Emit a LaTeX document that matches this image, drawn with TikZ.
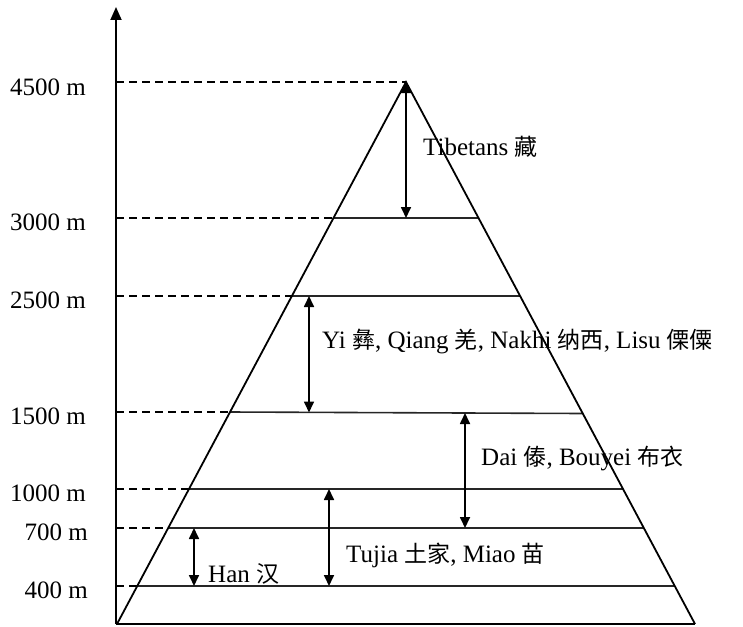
\documentclass[tikz,border=0pt]{standalone}
\usepackage{fontspec}
\setmainfont{Liberation Serif}
\newfontfamily\cjk[Scale=0.92]{Noto Sans CJK SC}
\usetikzlibrary{arrows.meta}
\begin{document}
\begin{tikzpicture}[x=1pt,y=-1pt,
  every node/.style={font=\fontsize{25}{30}\selectfont, inner sep=0pt},
  edgeline/.style={line width=1.8pt, line join=miter},
  levelline/.style={line width=1.6pt, draw=black!85},
  guide/.style={line width=1.5pt, dash pattern=on 8pt off 5pt},
  span/.style={line width=1.7pt, {Triangle[length=11pt,width=10pt]}-{Triangle[length=11pt,width=10pt]}},
  lab/.style={anchor=base east},
  txt/.style={anchor=base west}]
\useasboundingbox (0,0) rectangle (743,626);
% frame points
\coordinate (O) at (116,624);
\coordinate (top) at (116,7);
\coordinate (BL) at (117,624);
\coordinate (BR) at (695,624);
\coordinate (A) at (406,82);
% levels: axis point, left edge, right edge
\coordinate (a4500) at (116,82);
\coordinate (a3000) at (116,218);  \coordinate (l3000) at (333.5,218); \coordinate (r3000) at (478.5,218);
\coordinate (a2500) at (116,296);  \coordinate (l2500) at (291.9,296); \coordinate (r2500) at (520.1,296);
\coordinate (a1500) at (116,412);  \coordinate (l1500) at (230.0,412); \coordinate (r1500) at (582.6,413.5);
\coordinate (a1000) at (116,489);  \coordinate (l1000) at (189.0,489); \coordinate (r1000) at (623.0,489);
\coordinate (a700) at (116,528);   \coordinate (l700) at (168.2,528);  \coordinate (r700) at (643.8,528);
\coordinate (a400) at (116,586);   \coordinate (l400) at (137.3,586);  \coordinate (r400) at (674.7,586);
% axis
\draw[line width=1.8pt, -{Triangle[length=13pt,width=11pt]}] (O) -- (top);
\draw[edgeline] (O) -- (BR);
% dashed guides
\draw[guide] (a4500) -- (A);
\draw[guide] (a3000) -- (l3000);
\draw[guide] (a2500) -- (l2500);
\draw[guide] (a1500) -- (l1500);
\draw[guide] (a1000) -- (l1000);
\draw[guide] (a700) -- (l700);
\draw[guide] (a400) -- (l400);
% level lines
\draw[levelline] (l3000) -- (r3000);
\draw[levelline] (l2500) -- (r2500);
\draw[levelline] (l1500) -- (r1500);
\draw[levelline] (l1000) -- (r1000);
\draw[levelline] (l700) -- (r700);
\draw[levelline] (l400) -- (r400);
% triangle
\draw[edgeline] (BL) -- (A) -- (BR);
% axis labels
\node[lab] (t4500) at (86,95) {4500 m};
\node[lab] (t3000) at (86,230) {3000 m};
\node[lab] (t2500) at (86,308) {2500 m};
\node[lab] (t1500) at (86,424) {1500 m};
\node[lab] (t1000) at (86,501) {1000 m};
\node[lab] (t700) at (88,540) {700 m};
\node[lab] (t400) at (88,598) {400 m};
% span arrows
\coordinate (s1a) at (406,82);  \coordinate (s1b) at (406,218);
\coordinate (s2a) at (309,296); \coordinate (s2b) at (309,412.5);
\coordinate (s3a) at (465,413); \coordinate (s3b) at (465,528);
\coordinate (s4a) at (329,489); \coordinate (s4b) at (329,586);
\coordinate (s5a) at (194,528); \coordinate (s5b) at (194,586);
\draw[span] (s1a) -- (s1b);
\draw[span] (s2a) -- (s2b);
\draw[span] (s3a) -- (s3b);
\draw[span] (s4a) -- (s4b);
\draw[span] (s5a) -- (s5b);
% group labels
\node[txt] (tib) at (423,155) {Tibetans {\cjk 藏}};
\node[txt] (yi) at (322,348) {Yi {\cjk 彝}, Qiang {\cjk 羌}, Nakhi {\cjk 纳西}, Lisu {\cjk 傈僳}};
\node[txt] (dai) at (481,465) {Dai {\cjk 傣}, Bouyei {\cjk 布衣}};
\node[txt] (tuj) at (346,562) {Tujia {\cjk 土家}, Miao {\cjk 苗}};
\node[txt] (han) at (208,582) {Han {\cjk 汉}};
\end{tikzpicture}
\end{document}
